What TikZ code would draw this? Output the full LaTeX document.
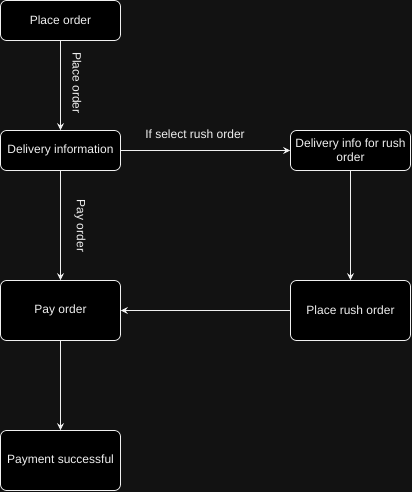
\documentclass[tikz,border=0pt]{standalone}
\usepackage{fontspec}
\setmainfont{Liberation Sans}
\usetikzlibrary{arrows.meta}
\definecolor{bg}{HTML}{121212}
\definecolor{fg}{HTML}{F0F0F0}
\begin{document}
\begin{tikzpicture}[x=1pt,y=-1pt,
  box/.style={draw=fg, fill=black, rounded corners=6pt, line width=0.8pt,
    minimum width=120pt, text=fg, font=\fontsize{12}{14}\selectfont, align=center, inner sep=2pt},
  conn/.style={draw=fg, line width=0.8pt, -{Stealth[length=7pt,width=7pt,inset=2.5pt]}},
  lbl/.style={text=fg, font=\fontsize{12}{14}\selectfont, inner sep=1pt}]
\fill[bg] (0,0) rectangle (412,492);
\useasboundingbox (0,0) rectangle (412,492);
\node[box, minimum height=40pt] (po) at (60.5,20.5) {Place order};
\node[box, minimum height=40pt] (di) at (60.5,150.5) {Delivery information};
\node[box, minimum height=40pt] (dr) at (350.5,150.5) {Delivery info for rush\\order};
\node[box, minimum height=60pt] (pay) at (60.5,310.5) {Pay order};
\node[box, minimum height=60pt] (pr) at (350.5,310.5) {Place rush order};
\node[box, minimum height=60pt] (ps) at (60.5,460.5) {Payment successful};
\draw[conn] (po) -- (di);
\draw[conn] (di) -- (dr);
\draw[conn] (di) -- (pay);
\draw[conn] (dr) -- (pr);
\draw[conn] (pr) -- (pay);
\draw[conn] (pay) -- (ps);
\node[lbl, rotate=-90] (l1) at (77,83) {Place order};
\node[lbl, rotate=-90] (l2) at (80,226) {Pay order};
\node[lbl] (l3) at (195,134) {If select rush order};
\end{tikzpicture}
\end{document}
